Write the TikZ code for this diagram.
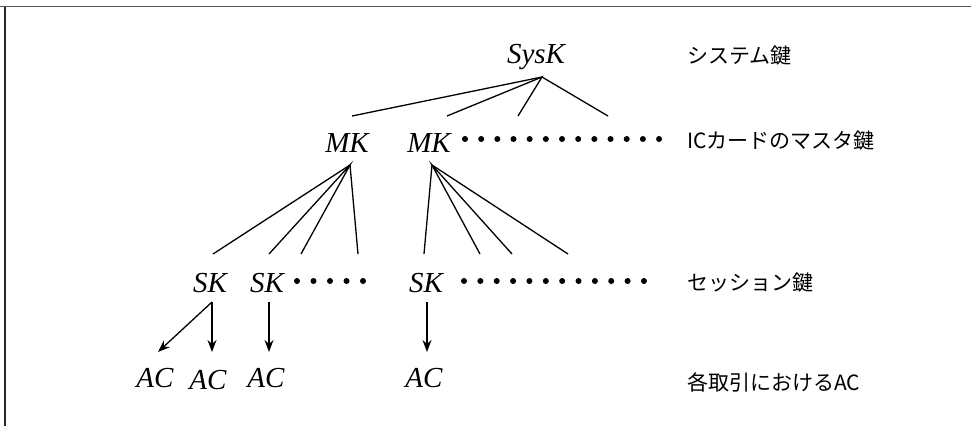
\documentclass[tikz,border=0pt]{standalone}
\usepackage{fontspec}
\setmainfont{Liberation Serif}
\newfontfamily\jp{Noto Sans CJK JP}
\usetikzlibrary{arrows.meta}
\tikzset{
  key/.style={inner sep=0pt, anchor=base, font=\fontsize{29}{32}\selectfont\itshape},
  lbl/.style={inner sep=0pt, anchor=west, font=\fontsize{21}{24}\selectfont\jp},
  edge/.style={line width=1.3pt},
  arr/.style={line width=1.3pt, -{Stealth[length=12pt,width=9pt]}},
  dot/.style={fill=black, draw=none}
}
\begin{document}
\begin{tikzpicture}[x=1pt,y=-1pt]
\useasboundingbox (0,0) rectangle (971,426);
% frame
\draw[black!65, line width=1.6pt] (0,6.5) -- (971,6.5);
\draw[black!85, line width=1.6pt] (5,6.5) -- (5,426);

% nodes
\node[key] (sysk) at (536,63) {SysK};
\node[key] (mk1) at (347,152) {MK};
\node[key] (mk2) at (429,152) {MK};
\node[key] (sk1) at (210,292) {SK};
\node[key] (sk2) at (267,292) {SK};
\node[key] (sk3) at (426,292) {SK};
\node[key] (ac1) at (155,387) {AC};
\node[key] (ac2) at (208,389) {AC};
\node[key] (ac3) at (266,387) {AC};
\node[key] (ac4) at (424,387) {AC};

% labels
\node[lbl] (l1) at (687,56) {システム鍵};
\node[lbl] (l2) at (687,141) {ICカードのマスタ鍵};
\node[lbl] (l3) at (687,283) {セッション鍵};
\node[lbl] (l4) at (687,382) {各取引におけるAC};

% apex / end coordinates
\coordinate (sa) at (542,77);
\coordinate (s1) at (352,116);
\coordinate (s2) at (447,116);
\coordinate (s3) at (518,116);
\coordinate (s4) at (608,116);
\draw[edge] (s1) -- (sa) -- (s4);
\draw[edge] (s2) -- (sa) -- (s3);

\coordinate (ma) at (350,165);
\coordinate (m1) at (213,254);
\coordinate (m2) at (269,254);
\coordinate (m3) at (301,254);
\coordinate (m4) at (358,254);
\draw[edge] (m1) -- (ma) -- (m4);
\draw[edge] (m2) -- (ma) -- (m3);

\coordinate (na) at (432,165);
\coordinate (n1) at (424,254);
\coordinate (n2) at (480,254);
\coordinate (n3) at (512,254);
\coordinate (n4) at (568,254);
\draw[edge] (n1) -- (na) -- (n4);
\draw[edge] (n2) -- (na) -- (n3);

% arrows
\coordinate (k1) at (212,302);
\coordinate (k2) at (269,302);
\coordinate (k3) at (427,302);
\coordinate (e1) at (158,352);
\coordinate (e2) at (212,352);
\coordinate (e3) at (269,352);
\coordinate (e4) at (427,352);
\draw[arr] (k1) -- (e1);
\draw[arr] (k1) -- (e2);
\draw[arr] (k2) -- (e3);
\draw[arr] (k3) -- (e4);

% dots
\foreach \i in {0,...,12} \fill[dot] (465+\i*16.17,139) circle (3pt);
\foreach \i in {0,...,4} \fill[dot] (297+\i*16.5,281) circle (3pt);
\foreach \i in {0,...,11} \fill[dot] (464+\i*16.36,281) circle (3pt);
\end{tikzpicture}
\end{document}
